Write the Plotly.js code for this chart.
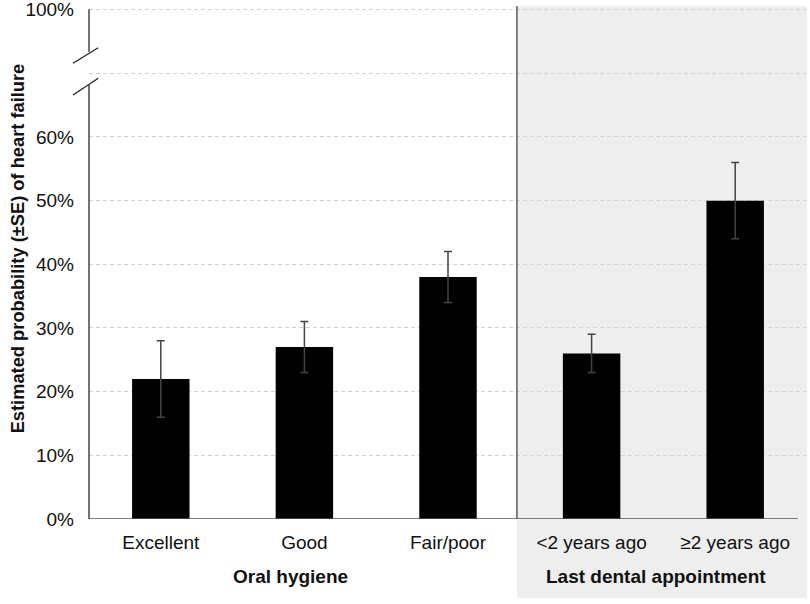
<!DOCTYPE html>
<html>
<head>
<meta charset="utf-8">
<script src="https://cdn.plot.ly/plotly-3.0.1.min.js"></script>
<style>html,body{margin:0;padding:0;background:#fff;}#chart{width:810px;height:604px;}</style>
</head>
<body>
<div id="chart"></div>
<script>
// ---- data ----
const categories = ["Excellent", "Good", "Fair/poor", "<2 years ago", "\u22652 years ago"];
const probability = [0.22, 0.27, 0.38, 0.26, 0.50];
const standardError = [0.06, 0.04, 0.04, 0.03, 0.06];
const groupNames = ["Oral hygiene", "Last dental appointment"];
const groupCenters = [0.90, 3.445];
const yTickValues = [0, 0.1, 0.2, 0.3, 0.4, 0.5, 0.6, 0.7, 0.8];
const yTickLabels = ["0%", "10%", "20%", "30%", "40%", "50%", "60%", "", "100%"];
const yTitle = "Estimated probability (\u00b1SE) of heart failure";

const FONT = "Liberation Sans, Arial, Helvetica, sans-serif";
const axisColor = "#444";

const trace = {
  type: "bar",
  x: categories,
  y: probability,
  marker: {color: "#000", line: {width: 0}},
  error_y: {type: "data", array: standardError, visible: true, color: "#444", thickness: 1.5, width: 4},
  hoverinfo: "skip"
};

const shapes = [
  // shaded region for "Last dental appointment"
  {type: "rect", xref: "x", yref: "paper", x0: 2.48, x1: 4.5, y0: -0.154, y1: 1,
   fillcolor: "#eeeeee", line: {width: 0}, layer: "below"},
  // separator line
  {type: "line", xref: "x", yref: "paper", x0: 2.48, x1: 2.48, y0: 0, y1: 1,
   line: {color: "#333", width: 1.2}},
  // x axis line
  {type: "line", xref: "paper", yref: "y", x0: 0, x1: 0.9875, y0: 0, y1: 0,
   line: {color: "#555", width: 1.5}},
  // broken y axis: lower part
  {type: "line", xref: "paper", yref: "y", x0: 0, x1: 0, y0: 0, y1: 0.6817,
   line: {color: axisColor, width: 1.5}},
  // broken y axis: upper part
  {type: "line", xref: "paper", yref: "y", x0: 0, x1: 0, y0: 0.7335, y1: 0.8005,
   line: {color: axisColor, width: 1.5}},
  // break slashes
  {type: "line", xref: "paper", yref: "y", x0: -0.0223, x1: 0.0128, y0: 0.7157, y1: 0.7402,
   line: {color: "#222", width: 1.3}},
  {type: "line", xref: "paper", yref: "y", x0: -0.0223, x1: 0.0128, y0: 0.6659, y1: 0.6922,
   line: {color: "#222", width: 1.3}}
];

const annotations = groupNames.map((g, i) => ({
  text: "<b>" + g + "</b>", xref: "x", yref: "paper", x: groupCenters[i], y: -0.113,
  xanchor: "center", yanchor: "middle", showarrow: false,
  font: {family: FONT, size: 19, color: "#111"}
}));
annotations.push({
  text: "<b>" + yTitle + "</b>", xref: "paper", yref: "paper", x: -0.100, y: 0.528,
  xanchor: "center", yanchor: "middle", textangle: -90, showarrow: false,
  font: {family: FONT, size: 18.3, color: "#111"}
});

const layout = {
  width: 810, height: 604,
  margin: {l: 89, r: 3, t: 6, b: 85},
  paper_bgcolor: "#fff",
  plot_bgcolor: "rgba(0,0,0,0)",
  showlegend: false,
  bargap: 0.6,
  font: {family: FONT, size: 19, color: "#111"},
  xaxis: {
    type: "category", range: [-0.5, 4.5], showline: false, showgrid: false, zeroline: false,
    ticks: "", ticklabelstandoff: 10, tickfont: {family: FONT, size: 19, color: "#111"}, fixedrange: true
  },
  yaxis: {
    range: [0, 0.8057], showline: false, zeroline: false,
    tickmode: "array", tickvals: yTickValues, ticktext: yTickLabels,
    showgrid: true, gridcolor: "#d2d2d2", griddash: "4px,3px", gridwidth: 1,
    ticks: "", ticklabelstandoff: 14, ticklabeloverflow: "allow",
    tickfont: {family: FONT, size: 19, color: "#111"}, fixedrange: true
  },
  shapes: shapes,
  annotations: annotations
};

Plotly.newPlot("chart", [trace], layout, {displayModeBar: false, staticPlot: true});
</script>
</body>
</html>
